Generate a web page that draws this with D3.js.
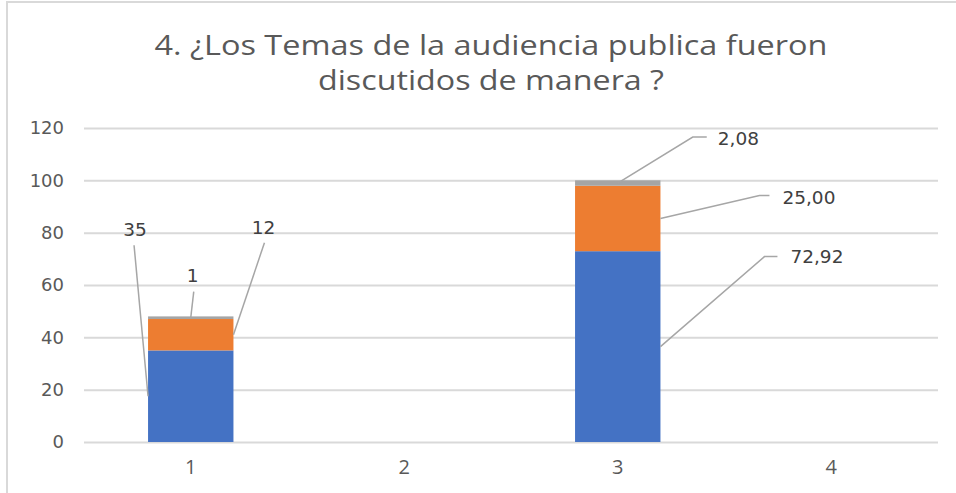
<!DOCTYPE html>
<html>
<head>
<meta charset="utf-8">
<script src="https://cdn.jsdelivr.net/npm/d3@7"></script>
<style>
  body { margin: 0; background: #fff; }
  svg { display: block; }
</style>
</head>
<body>
<div id="chart"></div>
<script>
// data
const categories = ["1", "2", "3", "4"];
const seriesNames = ["s1", "s2", "s3"];
const s1 = [35, 0, 72.92, 0];
const s2 = [12, 0, 25.00, 0];
const s3 = [1, 0, 2.08, 0];
const labelText = [["35", "12", "1"], null, ["72,92", "25,00", "2,08"], null];
const yTicks = [0, 20, 40, 60, 80, 100, 120];
const titleLines = ["4. ¿Los Temas de la audiencia publica fueron", "discutidos de manera ?"];

const width = 956, height = 493;
const margin = {left: 84, right: 18, top: 128, bottom: 51};
const colors = ["#4472C4", "#ED7D31", "#A5A5A5"];

const svg = d3.select("#chart").append("svg").attr("width", width).attr("height", height);

// frame
svg.append("path").attr("d", `M7,${height} V2 H${width}`)
  .attr("fill", "none").attr("stroke", "#d9d9d9").attr("stroke-width", 2);

// title (widths matched to the reference)
const titleWidths = [673, 346];
svg.append("g").selectAll("text").data(titleLines).join("text")
  .attr("x", 491).attr("y", (d, i) => 55 + i * 35)
  .attr("text-anchor", "middle")
  .attr("font-family", "'Open Sans', sans-serif").attr("font-size", 27)
  .attr("textLength", (d, i) => titleWidths[i])
  .attr("lengthAdjust", "spacingAndGlyphs")
  .attr("fill", "#595959").text(d => d);

const x = d3.scaleBand().domain(categories).range([margin.left, width - margin.right]).paddingInner(0.6).paddingOuter(0.3);
const y = d3.scaleLinear().domain([0, 120]).range([height - margin.bottom, margin.top]);

// gridlines + y labels
const yAxis = svg.append("g").attr("transform", `translate(${margin.left},0)`)
  .call(d3.axisLeft(y).tickValues(yTicks).tickSize(-(width - margin.left - margin.right)).tickPadding(20));
yAxis.select(".domain").remove();
yAxis.selectAll("line").attr("stroke", "#d9d9d9").attr("stroke-width", 2);
yAxis.selectAll("text").attr("fill", "#595959").attr("font-family", "'DejaVu Sans', sans-serif").attr("font-size", 18);

// x labels
const xAxis = svg.append("g").attr("transform", `translate(0,${y(0)})`)
  .call(d3.axisBottom(x).tickSize(0).tickPadding(18));
xAxis.select(".domain").remove();
xAxis.selectAll("text").attr("fill", "#595959").attr("font-family", "'Liberation Sans Narrow', 'Open Sans', sans-serif").attr("font-size", 20);

// stacked bars
const table = categories.map((c, i) => ({cat: c, s1: s1[i], s2: s2[i], s3: s3[i]}));
const stacked = d3.stack().keys(seriesNames)(table);

svg.append("g").selectAll("g").data(stacked).join("g")
  .attr("fill", (d, i) => colors[i])
  .selectAll("rect").data(d => d.filter(p => p[1] - p[0] > 0)).join("rect")
  .attr("x", d => x(d.data.cat))
  .attr("width", x.bandwidth())
  .attr("y", d => y(d[1]))
  .attr("height", d => y(d[0]) - y(d[1]));

// data labels with leader lines (offsets are layout, relative to attach point)
const labelLayout = [
  [ {side: "left", knee: [-14, -151], tail: 0, text: [-13, -167], anchor: "middle"},
    {side: "right", knee: [31, -92], tail: 0, text: [30, -107], anchor: "middle"},
    {side: "center", knee: [3, -26], tail: 0, text: [2, -42], anchor: "middle"} ],
  null,
  [ {side: "right", knee: [104, -90], tail: 13, text: [130, -90], anchor: "start"},
    {side: "right", knee: [99, -23], tail: 10, text: [122, -21], anchor: "start"},
    {side: "center", knee: [75, -46], tail: 14, text: [100, -45], anchor: "start"} ]
];

const labels = svg.append("g");
categories.forEach((c, ci) => {
  if (!labelText[ci]) return;
  stacked.forEach((series, si) => {
    const p = series[ci];
    const lay = labelLayout[ci][si];
    const ax = lay.side === "left" ? x(c) : lay.side === "right" ? x(c) + x.bandwidth() : x(c) + x.bandwidth() / 2;
    const ay = y((p[0] + p[1]) / 2);
    const kx = ax + lay.knee[0], ky = ay + lay.knee[1];
    const path = d3.path();
    path.moveTo(ax, ay);
    path.lineTo(kx, ky);
    if (lay.tail) path.lineTo(kx + lay.tail, ky);
    labels.append("path").attr("d", path.toString())
      .attr("fill", "none").attr("stroke", "#a6a6a6").attr("stroke-width", 1.5);
    labels.append("text")
      .attr("x", ax + lay.text[0]).attr("y", ay + lay.text[1])
      .attr("dy", "0.35em")
      .attr("text-anchor", lay.anchor)
      .attr("font-family", "'DejaVu Sans', sans-serif").attr("font-size", 18.5)
      .attr("fill", "#404040")
      .text(labelText[ci][si]);
  });
});
</script>
</body>
</html>
